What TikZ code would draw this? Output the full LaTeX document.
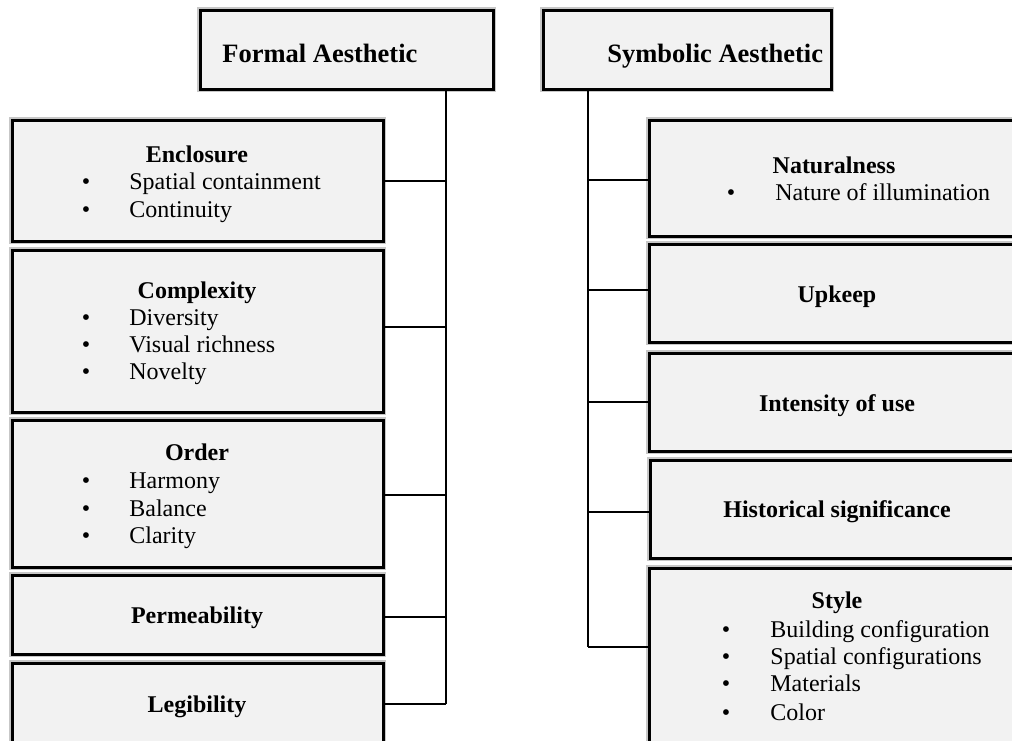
\documentclass[tikz,border=0pt]{standalone}
\usepackage{fontspec}
\setmainfont{Liberation Serif}
\usetikzlibrary{fit}
\definecolor{boxgray}{HTML}{F2F2F2}
\begin{document}
\begin{tikzpicture}[x=0.5pt,y=-0.5pt,
  box/.style={draw=black,line width=1.5pt,fill=boxgray,inner sep=0pt,
    preaction={draw=black!22,line width=2.6pt}},
  wire/.style={draw=black,line width=1pt},
  title/.style={anchor=base,font=\bfseries\fontsize{12}{14}\selectfont,inner sep=0pt},
  head/.style={anchor=base west,font=\bfseries\fontsize{13.25}{15}\selectfont,inner sep=0pt},
  item/.style={anchor=base west,font=\fontsize{12}{14}\selectfont,inner sep=0pt},
  bul/.style={anchor=base,font=\fontsize{12}{14}\selectfont,inner sep=0pt}]
\useasboundingbox (0,0) rectangle (1012,740);
\clip (0,0) rectangle (1012,740);

% top boxes
\node[box, fit={(200,10) (493,89)}] (formal) {};
\node[head] (formalT) at (222,62) {Formal Aesthetic};
\node[box, fit={(543,10) (831,89)}] (symb) {};
\node[head] (symbT) at (607,62) {Symbolic Aesthetic};

% left boxes
\node[box, fit={(12,120) (383,241)}] (enc) {};
\node[title] (encT) at (197,162) {Enclosure};
\node[bul] (encB1) at (86,189) {\textbullet};
\node[item] (encI1) at (129,189) {Spatial containment};
\node[bul] (encB2) at (86,217) {\textbullet};
\node[item] (encI2) at (129,217) {Continuity};

\node[box, fit={(12,250) (383,412)}] (cpx) {};
\node[title] (cpxT) at (197,298) {Complexity};
\node[bul] (cpxB1) at (86,325) {\textbullet};
\node[item] (cpxI1) at (129,325) {Diversity};
\node[bul] (cpxB2) at (86,352) {\textbullet};
\node[item] (cpxI2) at (129,352) {Visual richness};
\node[bul] (cpxB3) at (86,379) {\textbullet};
\node[item] (cpxI3) at (129,379) {Novelty};

\node[box, fit={(12,420) (383,567)}] (ord) {};
\node[title] (ordT) at (197,460) {Order};
\node[bul] (ordB1) at (86,488) {\textbullet};
\node[item] (ordI1) at (129,488) {Harmony};
\node[bul] (ordB2) at (86,516) {\textbullet};
\node[item] (ordI2) at (129,516) {Balance};
\node[bul] (ordB3) at (86,543) {\textbullet};
\node[item] (ordI3) at (129,543) {Clarity};

\node[box, fit={(12,575) (383,654)}] (perm) {};
\node[title] (permT) at (197,623) {Permeability};

\node[box, fit={(12,663) (383,748)}] (leg) {};
\node[title] (legT) at (197,712) {Legibility};

% right boxes
\node[box, fit={(649,120) (1030,236)}] (nat) {};
\node[title] (natT) at (834,173) {Naturalness};
\node[bul] (natB1) at (731,200) {\textbullet};
\node[item] (natI1) at (775,200) {Nature of illumination};

\node[box, fit={(649,244) (1030,342)}] (upk) {};
\node[title] (upkT) at (837,302) {Upkeep};

\node[box, fit={(649,353) (1030,451)}] (ins) {};
\node[title] (insT) at (837,411) {Intensity of use};

\node[box, fit={(650,460) (1030,558)}] (his) {};
\node[title] (hisT) at (837,517) {Historical significance};

\node[box, fit={(649,568) (1030,760)}] (sty) {};
\node[title] (styT) at (837,608) {Style};
\node[bul] (styB1) at (726,637) {\textbullet};
\node[item] (styI1) at (770,637) {Building configuration};
\node[bul] (styB2) at (726,664) {\textbullet};
\node[item] (styI2) at (770,664) {Spatial configurations};
\node[bul] (styB3) at (726,691) {\textbullet};
\node[item] (styI3) at (770,691) {Materials};
\node[bul] (styB4) at (726,720) {\textbullet};
\node[item] (styI4) at (770,720) {Color};

% left connectors
\coordinate (fb1) at (446,181);
\coordinate (fb2) at (446,327);
\coordinate (fb3) at (446,495);
\coordinate (fb4) at (446,617);
\coordinate (fb5) at (446,704);
\draw[wire] (formal.south -| fb5) -- (fb5);
\draw[wire] (fb1) -- (fb1 -| enc.east);
\draw[wire] (fb2) -- (fb2 -| cpx.east);
\draw[wire] (fb3) -- (fb3 -| ord.east);
\draw[wire] (fb4) -- (fb4 -| perm.east);
\draw[wire] (fb5) -- (fb5 -| leg.east);

% right connectors
\coordinate (sb1) at (588,180);
\coordinate (sb2) at (588,290);
\coordinate (sb3) at (588,402);
\coordinate (sb4) at (588,512);
\coordinate (sb5) at (588,647);
\draw[wire] (symb.south -| sb5) -- (sb5);
\draw[wire] (sb1) -- (sb1 -| nat.west);
\draw[wire] (sb2) -- (sb2 -| upk.west);
\draw[wire] (sb3) -- (sb3 -| ins.west);
\draw[wire] (sb4) -- (sb4 -| his.west);
\draw[wire] (sb5) -- (sb5 -| sty.west);
\end{tikzpicture}
\end{document}
